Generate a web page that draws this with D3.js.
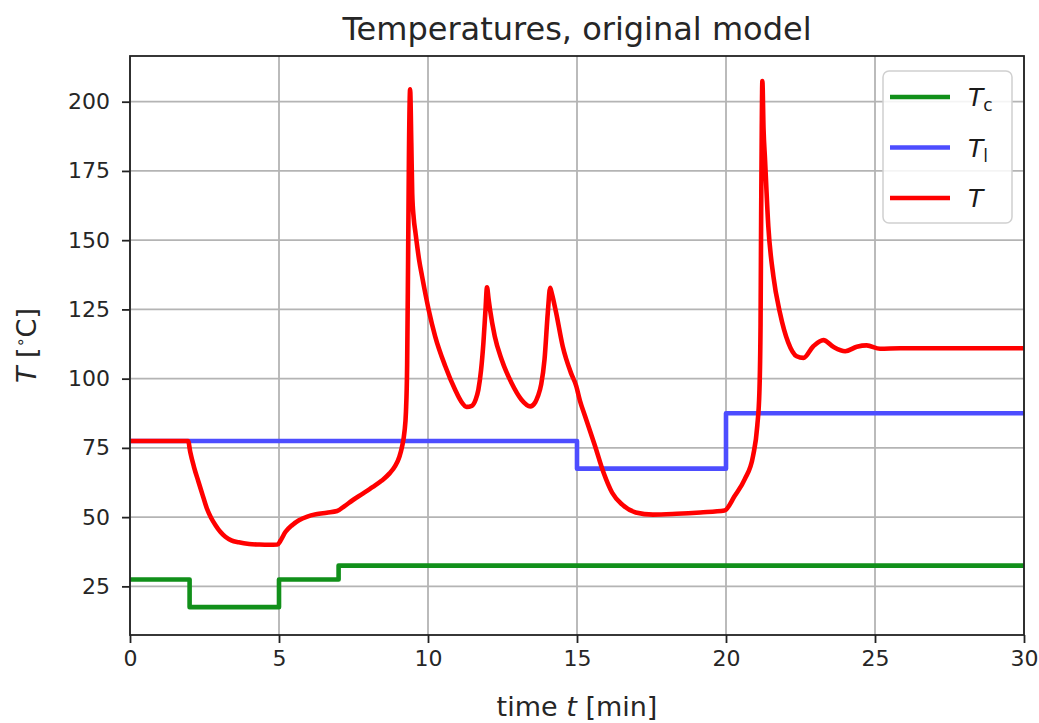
<!DOCTYPE html>
<html>
<head>
<meta charset="utf-8">
<script src="https://cdn.jsdelivr.net/npm/d3@7"></script>
<style>
  html, body { margin: 0; padding: 0; background: #fff; }
  svg { display: block; font-family: "DejaVu Sans", sans-serif; }
</style>
</head>
<body>
<svg id="chart" width="1039" height="723"></svg>
<script>
// ---- data ----
const xTicks = [0, 5, 10, 15, 20, 25, 30];
const yTicks = [25, 50, 75, 100, 125, 150, 175, 200];

// coolant temperature T_c (step changes)
const tcTime = [0, 2, 5, 7, 30];
const tcVals = [27.5, 17.5, 27.5, 32.5, 32.5];

// inlet temperature T_l (step changes)
const tlTime = [0, 15, 20, 30];
const tlVals = [77.5, 67.5, 87.5, 87.5];

// reactor temperature T
const tTime = [0, 1.95, 2.02, 2.15, 2.30, 2.45, 2.58, 2.72, 2.87, 3.03, 3.2, 3.4, 3.65, 4.0, 4.33, 4.65, 4.95,
  5.05, 5.22, 5.45, 5.67, 5.95, 6.24, 6.6, 6.95, 7.2, 7.47, 7.8, 8.15, 8.45, 8.71, 8.9, 9.04, 9.13, 9.21, 9.26,
  9.30, 9.33, 9.36, 9.40, 9.44, 9.47, 9.52, 9.58, 9.7, 9.8, 10.02, 10.24, 10.58, 10.91, 11.1, 11.3, 11.47, 11.6,
  11.69, 11.78, 11.86, 11.93, 11.98, 12.03, 12.08, 12.24, 12.47, 12.8, 13.13, 13.43, 13.6, 13.69, 13.8, 13.91,
  14.02, 14.1, 14.15, 14.3, 14.52, 14.8, 14.97, 15.1, 15.26, 15.6, 15.89, 16.18, 16.52, 16.97, 17.55, 18.34,
  19.14, 19.95, 20.29, 20.63, 20.91, 21.05, 21.12, 21.16, 21.18, 21.20, 21.22, 21.26, 21.31, 21.42, 21.59,
  21.81, 22.09, 22.37, 22.6, 22.93, 23.27, 23.6, 24.0, 24.39, 24.72, 25.17, 25.84, 27, 28.5, 30];
const tVals = [77.5, 77.5, 73.6, 68, 62.7, 57.5, 53.1, 49.8, 47.1, 44.7, 42.9, 41.6, 40.9, 40.3, 40.1, 40.0, 40.1,
  41.5, 44.7, 47.2, 48.9, 50.2, 51.0, 51.6, 52.2, 54.0, 56.1, 58.4, 60.9, 63.2, 65.8, 68.5, 71.8, 75.5, 80.8, 88,
  105, 140, 180, 204.5, 185, 167, 158, 152.7, 143, 137, 125, 115.3, 104.5, 96, 92, 89.8, 90.2, 92.5,
  96, 103, 113, 125, 133, 129, 125, 115.3, 106.9, 98.5, 92.5, 90, 91.5, 93.7, 98, 106.9,
  123.8, 132.8, 131, 123.8, 111.7, 102, 97.5, 92, 86.8, 75.9, 66.1, 58.8, 54.5, 51.7, 50.9, 51.2,
  51.7, 52.4, 57.6, 63.7, 72.2, 83, 95, 120, 160, 190, 207.5, 190, 179, 155, 137,
  123.8, 113, 108.1, 107.5, 111.7, 113.9, 111.5, 109.9, 111.5, 112, 110.8, 111, 111, 111, 111];

const seriesNames = ["Tc", "Tl", "T"];
const seriesColors = ["#11901a", "#4d4dff", "#ff0000"];

// ---- layout ----
const svg = d3.select("#chart");
const pL = 130, pR = 1024, pT = 56, pB = 635;
const x = d3.scaleLinear().domain([0, 30]).range([pL, pR]);
const y = d3.scaleLinear().domain([7.44, 216.5]).range([pB, pT]);

// grid
const grid = svg.append("g");
grid.selectAll("line.gx").data(xTicks).join("line")
  .attr("x1", d => x(d)).attr("x2", d => x(d)).attr("y1", pT).attr("y2", pB)
  .attr("stroke", "#b4b4b4").attr("stroke-width", 1.8);
grid.selectAll("line.gy").data(yTicks).join("line")
  .attr("x1", pL).attr("x2", pR).attr("y1", d => y(d)).attr("y2", d => y(d))
  .attr("stroke", "#b4b4b4").attr("stroke-width", 1.8);

// lines
svg.append("clipPath").attr("id", "clip").append("rect")
  .attr("x", pL).attr("y", pT).attr("width", pR - pL).attr("height", pB - pT);
const plot = svg.append("g").attr("clip-path", "url(#clip)");

const stepLine = d3.line().x(d => x(d[0])).y(d => y(d[1])).curve(d3.curveStepAfter);
const smoothLine = d3.line().x(d => x(d[0])).y(d => y(d[1])).curve(d3.curveMonotoneX);

plot.append("path").datum(d3.zip(tcTime, tcVals)).attr("d", stepLine)
  .attr("fill", "none").attr("stroke", seriesColors[0]).attr("stroke-width", 4.6).attr("stroke-linejoin", "round");
plot.append("path").datum(d3.zip(tlTime, tlVals)).attr("d", stepLine)
  .attr("fill", "none").attr("stroke", seriesColors[1]).attr("stroke-width", 4.6).attr("stroke-linejoin", "round");
plot.append("path").datum(d3.zip(tTime, tVals)).attr("d", smoothLine)
  .attr("fill", "none").attr("stroke", seriesColors[2]).attr("stroke-width", 4.6).attr("stroke-linejoin", "round");

// axes
const xAxis = d3.axisBottom(x).tickValues(xTicks).tickSize(8).tickPadding(7).tickFormat(d3.format("d"));
const yAxis = d3.axisLeft(y).tickValues(yTicks).tickSize(8).tickPadding(12).tickFormat(d3.format("d"));
const gx = svg.append("g").attr("transform", `translate(0,${pB})`).call(xAxis);
const gy = svg.append("g").attr("transform", `translate(${pL},0)`).call(yAxis);
[gx, gy].forEach(g => {
  g.select(".domain").remove();
  g.selectAll(".tick line").attr("stroke", "#222").attr("stroke-width", 1.8);
  g.selectAll(".tick text").attr("font-size", 22).attr("fill", "#262626")
    .attr("font-family", "DejaVu Sans, sans-serif");
});

// frame
svg.append("rect").attr("x", pL).attr("y", pT).attr("width", pR - pL).attr("height", pB - pT)
  .attr("fill", "none").attr("stroke", "#222").attr("stroke-width", 1.8);

// title
svg.append("text").attr("x", (pL + pR) / 2).attr("y", 40).attr("text-anchor", "middle")
  .attr("font-size", 32).attr("fill", "#262626").text("Temperatures, original model");

// x label
const xl = svg.append("text").attr("x", (pL + pR) / 2).attr("y", 716).attr("text-anchor", "middle")
  .attr("font-size", 27).attr("fill", "#262626");
xl.append("tspan").text("time ");
xl.append("tspan").attr("font-style", "italic").text("t");
xl.append("tspan").text(" [min]");

// y label
const yl = svg.append("text").attr("transform", `translate(36,${(pT + pB) / 2}) rotate(-90)`)
  .attr("text-anchor", "middle").attr("font-size", 27).attr("fill", "#262626");
yl.append("tspan").attr("font-style", "italic").text("T");
yl.append("tspan").text(" [");
yl.append("tspan").attr("font-size", 16).attr("dy", -10).text("∘");
yl.append("tspan").attr("dy", 10).text("C]");

// legend
const lg = svg.append("g");
lg.append("rect").attr("x", 883).attr("y", 71).attr("width", 129).attr("height", 152).attr("rx", 6)
  .attr("fill", "rgba(255,255,255,0.85)").attr("stroke", "#d0d0d0").attr("stroke-width", 1.5);
const subs = ["c", "l", ""];
seriesNames.forEach((name, i) => {
  const yy = 97 + i * 50.5;
  lg.append("line").attr("x1", 890).attr("x2", 950).attr("y1", yy).attr("y2", yy)
    .attr("stroke", seriesColors[i]).attr("stroke-width", 4.6);
  const t = lg.append("text").attr("x", 968).attr("y", yy + 9).attr("font-size", 25).attr("fill", "#1a1a1a");
  t.append("tspan").attr("font-style", "italic").text("T");
  if (subs[i]) t.append("tspan").attr("font-size", 17).attr("dy", 5).text(subs[i]);
});
</script>
</body>
</html>
